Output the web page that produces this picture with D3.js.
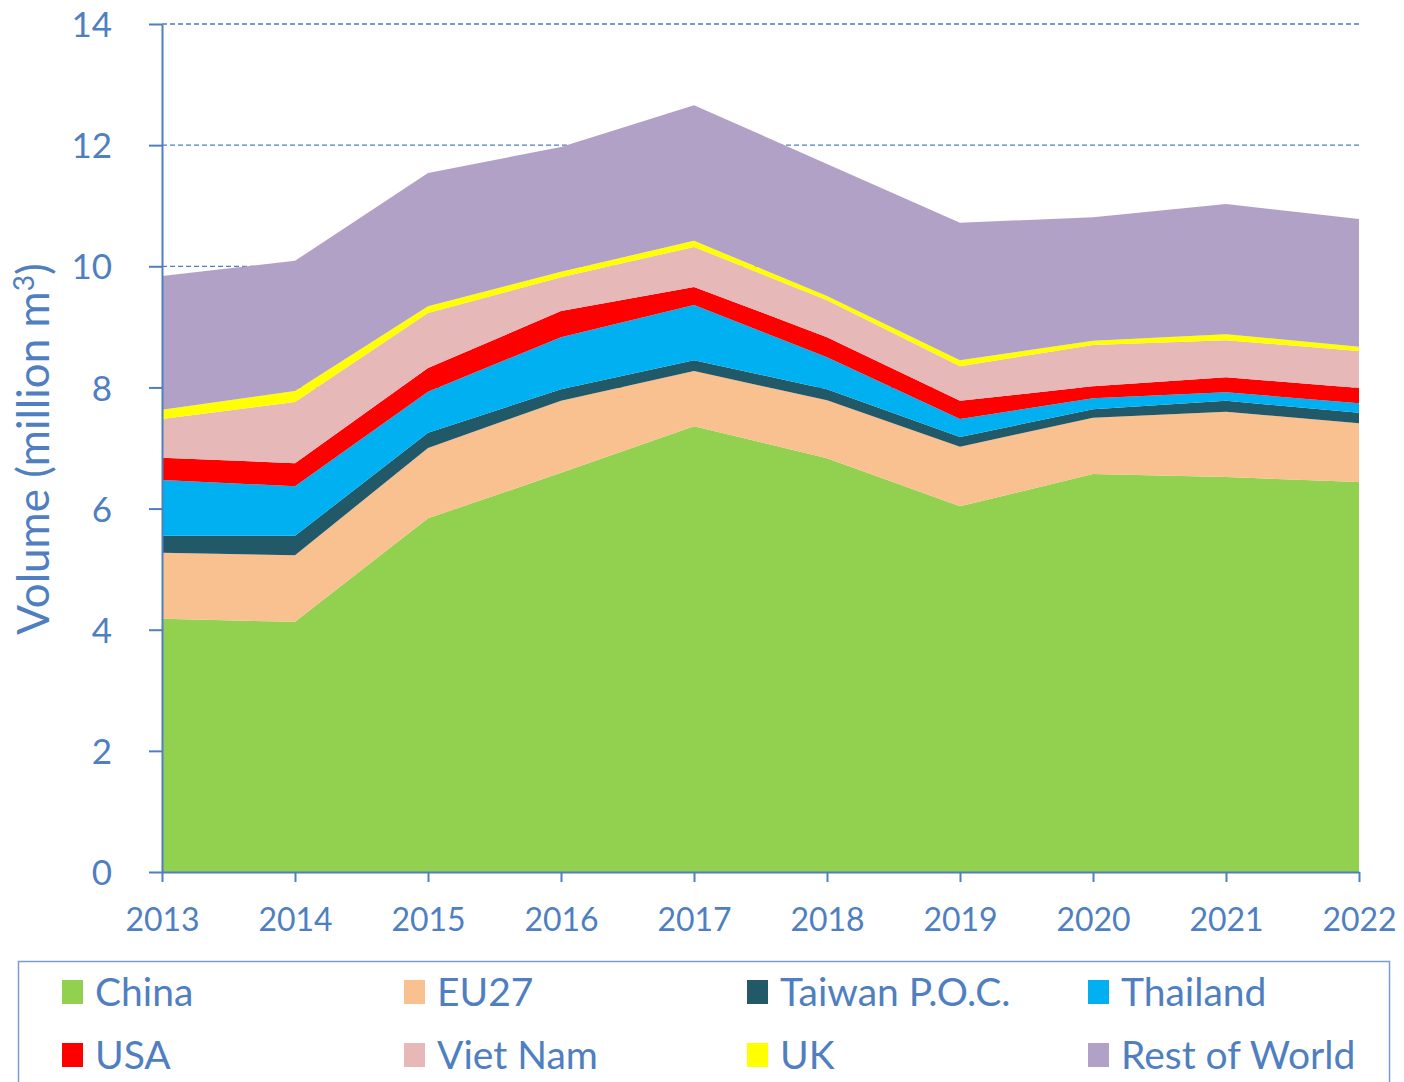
<!DOCTYPE html>
<meta charset="utf-8">
<style>
body { margin: 0; background: #fff; }
text { font-family: Lato, "Open Sans", sans-serif; fill: #4f7fc0; }
.grid line { stroke: #4f7fc0; stroke-width: 1.3; stroke-dasharray: 5 3; }
.axis path, .axis line { stroke: #4f7fc0; stroke-width: 2; }
</style>
<svg width="1404" height="1082"></svg>
<script src="https://d3js.org/d3.v7.min.js"></script>
<script>
var years = [2013, 2014, 2015, 2016, 2017, 2018, 2019, 2020, 2021, 2022];
var seriesNames = ["China", "EU27", "Taiwan P.O.C.", "Thailand", "USA", "Viet Nam", "UK", "Rest of World"];
var colors = ["#92d050", "#f9c090", "#215968", "#00b0f0", "#ff0000", "#e6b8b7", "#ffff00", "#b2a1c7"];

// million m3
var china    = [4.18, 4.13, 5.84, 6.59, 7.36, 6.83, 6.04, 6.57, 6.52, 6.44];
var eu27     = [1.09, 1.10, 1.16, 1.19, 0.91, 0.96, 0.98, 0.93, 1.08, 0.97];
var taiwan   = [0.28, 0.32, 0.25, 0.19, 0.18, 0.18, 0.16, 0.14, 0.18, 0.17];
var thailand = [0.92, 0.82, 0.68, 0.86, 0.91, 0.53, 0.30, 0.18, 0.14, 0.16];
var usa      = [0.37, 0.38, 0.39, 0.43, 0.30, 0.33, 0.30, 0.20, 0.25, 0.25];
var vietnam  = [0.64, 1.01, 0.91, 0.56, 0.66, 0.61, 0.57, 0.68, 0.61, 0.61];
var uk       = [0.15, 0.18, 0.11, 0.09, 0.10, 0.07, 0.10, 0.07, 0.10, 0.07];
var rest     = [2.21, 2.15, 2.20, 2.06, 2.24, 2.18, 2.27, 2.04, 2.15, 2.11];
var yTicks = [0, 2, 4, 6, 8, 10, 12, 14];

var allSeries = [china, eu27, taiwan, thailand, usa, vietnam, uk, rest];
var table = years.map(function(y, i) {
  var row = {year: y};
  seriesNames.forEach(function(n, k) { row[n] = allSeries[k][i]; });
  return row;
});

var svg = d3.select("svg"),
    margin = {left: 162, right: 45, top: 24, bottom: 210},
    width = 1404 - margin.left - margin.right,
    height = 1082 - margin.top - margin.bottom,
    g = svg.append("g").attr("transform", "translate(" + margin.left + "," + margin.top + ")");

var x = d3.scaleLinear().domain([2013, 2022]).range([0, width]);
var y = d3.scaleLinear().domain([0, 14]).range([height, 0]);

// dashed gridlines
g.append("g").attr("class", "grid")
  .selectAll("line").data(yTicks.filter(function(d) { return d > 0; }))
  .enter().append("line")
    .attr("x1", 0).attr("x2", width)
    .attr("y1", function(d) { return y(d); })
    .attr("y2", function(d) { return y(d); });

var stack = d3.stack().keys(seriesNames);
var layers = stack(table);
var area = d3.area()
    .x(function(d) { return x(d.data.year); })
    .y0(function(d) { return y(d[0]); })
    .y1(function(d) { return y(d[1]); });

g.selectAll(".layer").data(layers).enter().append("path")
    .attr("class", "layer")
    .attr("fill", function(d, i) { return colors[i]; })
    .attr("d", area);

var yAxis = g.append("g").attr("class", "axis")
    .call(d3.axisLeft(y).tickValues(yTicks).tickSize(13).tickPadding(37).tickSizeOuter(0));
yAxis.selectAll("text").style("font-size", "35px").attr("fill", "#4f7fc0").attr("dy", "0.36em");

var xAxis = g.append("g").attr("class", "axis")
    .attr("transform", "translate(0," + height + ")")
    .call(d3.axisBottom(x).tickValues(years).tickFormat(d3.format("d")).tickSize(10).tickPadding(26).tickSizeOuter(0));
xAxis.selectAll("text").style("font-size", "32px").attr("fill", "#4f7fc0");

svg.append("text")
    .attr("transform", "translate(49,449) rotate(-90)")
    .attr("text-anchor", "middle")
    .style("font-size", "44px")
    .html("Volume (million m<tspan dy='-15' style='font-size:28px'>3</tspan><tspan dy='15'>)</tspan>");

// legend
var legend = svg.append("g");
legend.append("rect")
    .attr("x", 18.5).attr("y", 961.5).attr("width", 1371).attr("height", 140)
    .attr("fill", "none").attr("stroke", "#7a9cd0").attr("stroke-width", 1.5);
var colX = [62, 404, 747, 1088], rowY = [992, 1055];
var item = legend.selectAll(".item").data(seriesNames).enter().append("g")
    .attr("transform", function(d, i) { return "translate(" + colX[i % 4] + "," + rowY[Math.floor(i / 4)] + ")"; });
item.append("rect").attr("x", 0).attr("y", -12).attr("width", 21).attr("height", 24)
    .attr("fill", function(d, i) { return colors[i]; });
item.append("text").attr("x", 33).attr("dy", "0.36em").style("font-size", "39px")
    .text(function(d) { return d; });
</script>
